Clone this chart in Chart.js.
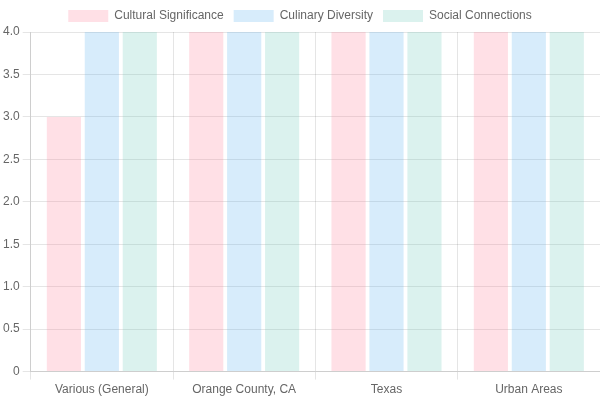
<!DOCTYPE html>
<html>
<head>
<meta charset="utf-8">
<script src="https://cdn.jsdelivr.net/npm/chart.js@4/dist/chart.umd.min.js"></script>
<style>
  body { margin: 0; background: #fff; }
  #wrap { width: 600px; height: 400px; }
</style>
</head>
<body>
<div id="wrap"><canvas id="regionChart"></canvas></div>
<script>
const regions = ['Various (General)', 'Orange County, CA', 'Texas', 'Urban Areas'];
const culturalSignificance = [3, 4, 4, 4];
const culinaryDiversity = [4, 4, 4, 4];
const socialConnections = [4, 4, 4, 4];

const ctx = document.getElementById('regionChart').getContext('2d');
const myChart = new Chart(ctx, {
    type: 'bar',
    data: {
        labels: regions,
        datasets: [{
            label: 'Cultural Significance',
            data: culturalSignificance,
            backgroundColor: 'rgba(255, 99, 132, 0.2)',
            borderWidth: 0
        }, {
            label: 'Culinary Diversity',
            data: culinaryDiversity,
            backgroundColor: 'rgba(54, 162, 235, 0.2)',
            borderWidth: 0
        }, {
            label: 'Social Connections',
            data: socialConnections,
            backgroundColor: 'rgba(75, 192, 170, 0.2)',
            borderWidth: 0
        }]
    },
    options: {
        responsive: true,
        maintainAspectRatio: false,
        animation: false,
        scales: {
            y: {
                beginAtZero: true,
                max: 4,
                ticks: { stepSize: 0.5 }
            }
        }
    }
});
</script>
</body>
</html>
